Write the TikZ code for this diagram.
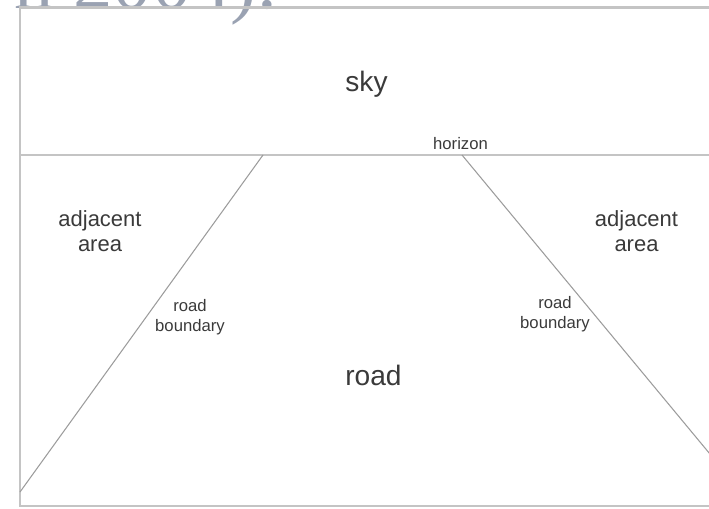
\documentclass[tikz,border=0pt]{standalone}
\usepackage{fontspec}
\setmainfont{Liberation Sans}
\newfontfamily\citeserif{Liberation Serif}
\definecolor{labelgray}{HTML}{3A3A3A}
\definecolor{framegray}{HTML}{C4C4C4}
\definecolor{edgegray}{HTML}{9C9C9C}
\definecolor{citegray}{HTML}{9AA2B2}

\begin{document}
\begin{tikzpicture}[every node/.style={text=labelgray, inner sep=0pt},
    bigtext/.style={font=\fontsize{16}{19}\selectfont},
    areatext/.style={font=\fontsize{12.5}{14.2}\selectfont, align=center},
    smalltext/.style={font=\fontsize{9.5}{11.3}\selectfont, align=center},
    frameline/.style={framegray, line width=1.3pt},
    edgeline/.style={edgegray, line width=0.6pt}]
    \useasboundingbox (0,0) rectangle (14.18,10.16);
    % cut-off end of the text above
    \node[anchor=base west, text=citegray, font=\citeserif\fontsize{44.8}{50}\selectfont] (cite) at (0.28,9.98) {n 2004).};
    % frame and horizon
    \draw[frameline] (14.6,10.01) -- (0.4,10.01) -- (0.4,0.04) -- (14.6,0.04);
    \coordinate (hl) at (0.4,7.06); \coordinate (hr) at (14.6,7.06);
    \draw[frameline] (hl) -- (hr);
    % road boundaries
    \coordinate (lt) at (5.26,7.06); \coordinate (lb) at (0.4,0.32);
    \coordinate (rt) at (9.24,7.06); \coordinate (rb) at (14.34,0.91);
    \draw[edgeline] (lt) -- (lb);
    \draw[edgeline] (rt) -- (rb);
    % labels
    \node[bigtext, anchor=base] (sky) at (7.33,8.32) {sky};
    \node[smalltext, anchor=base] (horizon) at (9.21,7.16) {horizon};
    \node[areatext] (adjl) at (2.0,5.54) {adjacent\\area};
    \node[areatext] (adjr) at (12.73,5.54) {adjacent\\area};
    \node[smalltext] (bndl) at (3.8,3.81) {road\\boundary};
    \node[smalltext] (bndr) at (11.1,3.88) {road\\boundary};
    \node[bigtext, anchor=base] (road) at (7.47,2.46) {road};
\end{tikzpicture}
\end{document}
